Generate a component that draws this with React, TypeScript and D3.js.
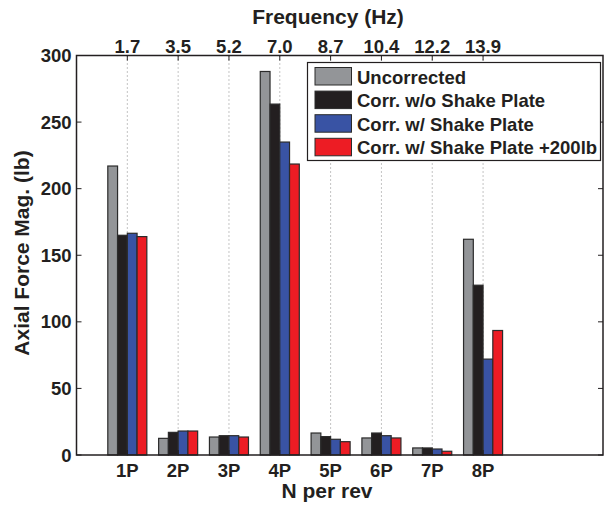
import React from "react";
import * as d3 from "d3";

const categories = ["1P", "2P", "3P", "4P", "5P", "6P", "7P", "8P"];
const freqLabels = ["1.7", "3.5", "5.2", "7.0", "8.7", "10.4", "12.2", "13.9"];
const seriesNames = [
  "Uncorrected",
  "Corr. w/o Shake Plate",
  "Corr. w/ Shake Plate",
  "Corr. w/ Shake Plate +200lb",
];
const uncorrected = [217, 12.5, 13.5, 288, 16.5, 12.8, 5.3, 162];
const corrNoPlate = [165, 17, 14.5, 263.5, 13.8, 16.5, 5.3, 127.5];
const corrPlate = [166.5, 18, 14.5, 235, 11.8, 14.5, 4.5, 72];
const corrPlate200 = [164, 18, 13.5, 218.5, 10, 12.8, 2.8, 93.5];
const yTicks = [0, 50, 100, 150, 200, 250, 300];
const seriesColors = ["#939598", "#231f20", "#3953a4", "#ed1c24"];

const series = [uncorrected, corrNoPlate, corrPlate, corrPlate200];

export default function App() {
  const W = 604;
  const H = 505;
  const left = 76.5;
  const right = 603;
  const top = 55.5;
  const bottom = 455;
  const x = d3.scaleLinear().domain([0, 10.36]).range([left, right]);
  const y = d3.scaleLinear().domain([0, 300]).range([bottom, top]);
  const barW = 0.192;
  const font = "'Liberation Sans', Arial, Helvetica, sans-serif";
  const axisColor = "#231f20";
  const tickFont = 18.5;

  return (
    <svg
      width={W}
      height={H}
      style={{ position: "absolute", left: 0, top: 0 }}
      fontFamily={font}
      fontWeight="bold"
    >
      <rect x={0} y={0} width={W} height={H} fill="#fff" />
      {/* grid */}
      {categories.map((c, i) => (
        <line
          key={"g" + c}
          x1={x(i + 1)}
          x2={x(i + 1)}
          y1={top}
          y2={bottom}
          stroke="#888"
          strokeWidth={1}
          strokeDasharray="1,3"
        />
      ))}
      {/* bars */}
      {categories.map((c, i) =>
        series.map((s, k) => {
          const x0 = x(i + 1 + (k - 2) * barW);
          const x1 = x(i + 1 + (k - 1) * barW);
          return (
            <rect
              key={c + k}
              x={x0}
              y={y(s[i])}
              width={x1 - x0}
              height={y(0) - y(s[i])}
              fill={seriesColors[k]}
              stroke="#2b2b2b"
              strokeWidth={1.2}
            />
          );
        })
      )}
      {/* axes box */}
      <rect
        x={left}
        y={top}
        width={right - left}
        height={bottom - top}
        fill="none"
        stroke={axisColor}
        strokeWidth={1.5}
      />
      {/* y ticks */}
      {yTicks.map((t) => (
        <g key={"y" + t}>
          <line x1={left} x2={left + 5} y1={y(t)} y2={y(t)} stroke={axisColor} strokeWidth={1} />
          <line x1={right - 5} x2={right} y1={y(t)} y2={y(t)} stroke={axisColor} strokeWidth={1} />
          <text
            x={left - 5}
            y={y(t)}
            textAnchor="end"
            dominantBaseline="central"
            fontSize={tickFont}
            fill={axisColor}
          >
            {t}
          </text>
        </g>
      ))}
      {/* x ticks bottom & top */}
      {categories.map((c, i) => (
        <g key={"x" + c}>
          <line x1={x(i + 1)} x2={x(i + 1)} y1={bottom} y2={bottom - 5} stroke={axisColor} strokeWidth={1} />
          <line x1={x(i + 1)} x2={x(i + 1)} y1={top} y2={top + 5} stroke={axisColor} strokeWidth={1} />
          <text x={x(i + 1)} y={477} textAnchor="middle" fontSize={tickFont} fill={axisColor}>
            {c}
          </text>
          <text x={x(i + 1)} y={52.5} textAnchor="middle" fontSize={tickFont} fill={axisColor}>
            {freqLabels[i]}
          </text>
        </g>
      ))}
      {/* titles */}
      <text x={328} y={24} textAnchor="middle" fontSize={21} fill={axisColor}>
        Frequency (Hz)
      </text>
      <text x={327} y={498} textAnchor="middle" fontSize={21} fill={axisColor}>
        N per rev
      </text>
      <text
        transform={`translate(28.5,253) rotate(-90)`}
        textAnchor="middle"
        fontSize={21}
        fill={axisColor}
      >
        Axial Force Mag. (lb)
      </text>
      {/* legend */}
      <g>
        <rect x={307.5} y={62.5} width={293} height={98} fill="#fff" stroke={axisColor} strokeWidth={1.2} />
        {seriesNames.map((n, k) => (
          <g key={n}>
            <rect
              x={315}
              y={67.5 + k * 23.6}
              width={36.5}
              height={17.5}
              fill={seriesColors[k]}
              stroke="#2b2b2b"
              strokeWidth={1}
            />
            <text x={357} y={77 + k * 23.6} dominantBaseline="central" fontSize={18.5} fill={axisColor}>
              {n}
            </text>
          </g>
        ))}
      </g>
    </svg>
  );
}
